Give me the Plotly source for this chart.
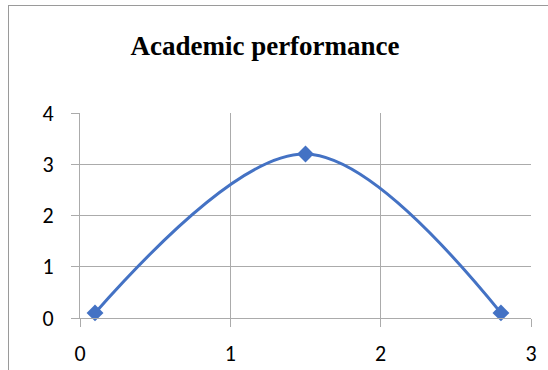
import plotly.graph_objects as go

x_vals = [0.1, 1.5, 2.8]
y_vals = [0.1, 3.2, 0.1]
title_text = "Academic performance"
x_ticks = [0, 1, 2, 3]
y_ticks = [0, 1, 2, 3, 4]

W, H = 548, 370
L, R, T, B = 80, 17, 113, 52
pw, ph = W - L - R, H - T - B

fig = go.Figure()
fig.add_trace(go.Scatter(
    x=x_vals, y=y_vals, mode="lines+markers",
    line=dict(color="#4472C4", width=3, shape="spline", smoothing=1),
    marker=dict(symbol="diamond", size=13, color="#4472C4"),
    showlegend=False, cliponaxis=False,
))

grid = "#ababab"
fig.update_layout(
    width=W, height=H,
    margin=dict(l=L, r=R, t=T, b=B, autoexpand=False),
    paper_bgcolor="white", plot_bgcolor="white",
    title=dict(text="<b>" + title_text + "</b>",
               font=dict(family="Liberation Serif", size=27, color="black"),
               x=265 / W, xanchor="center", y=1 - 46 / H, yanchor="middle"),
    xaxis=dict(range=[0, 3], tickvals=x_ticks, showgrid=True, gridcolor=grid, gridwidth=1,
               showline=True, linecolor=grid, linewidth=1, ticks="outside", ticklen=8,
               tickcolor=grid, zeroline=False, ticklabelstandoff=8, automargin=False,
               ticklabeloverflow="allow",
               tickfont=dict(family="Carlito, Lato", size=22, color="black")),
    yaxis=dict(range=[0, 4], tickvals=y_ticks, showgrid=True, gridcolor=grid, gridwidth=1,
               showline=True, linecolor=grid, linewidth=1, ticks="outside", ticklen=8,
               tickcolor=grid, zeroline=False, ticklabelstandoff=13, automargin=False,
               tickfont=dict(family="Carlito, Lato", size=22, color="black")),
    shapes=[
        dict(type="line", xref="paper", yref="paper",
             x0=(8 - L) / pw, x1=(W + 5 - L) / pw, y0=(H - B - 5.5) / ph, y1=(H - B - 5.5) / ph,
             line=dict(color="#9a9a9a", width=1)),
        dict(type="line", xref="paper", yref="paper",
             x0=(8.5 - L) / pw, x1=(8.5 - L) / pw, y0=(H - B - 5) / ph, y1=-(B + 5) / ph,
             line=dict(color="#9a9a9a", width=1)),
    ],
)
fig.write_html("out.html", config={"displayModeBar": False},
               post_script="document.body.style.margin='0';")
